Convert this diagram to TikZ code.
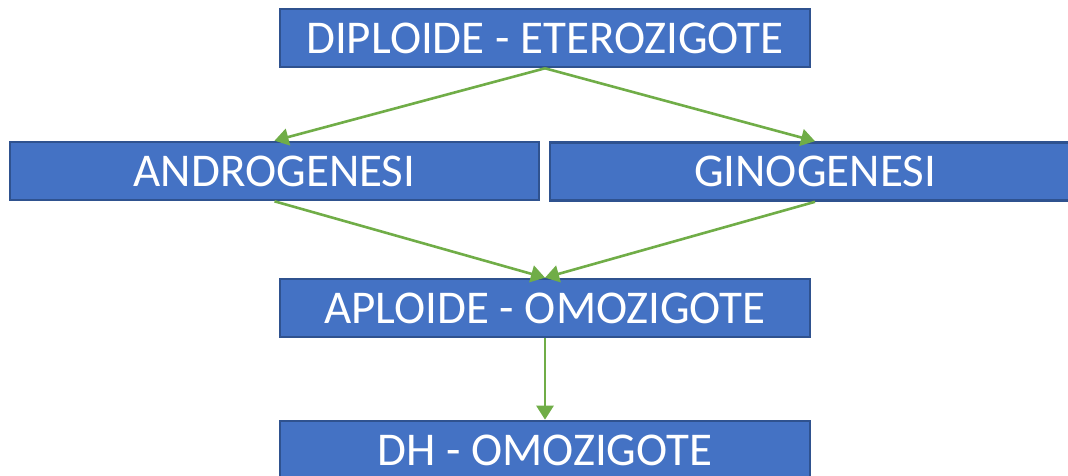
\documentclass[tikz,border=0pt]{standalone}
\usepackage{fontspec}
\setmainfont{Carlito}
\usetikzlibrary{arrows.meta}
\definecolor{boxfill}{HTML}{4472C4}
\definecolor{boxline}{HTML}{2F528F}
\definecolor{arrowgreen}{HTML}{70AD47}
\tikzset{
  stagebox/.style={rectangle, fill=boxfill, draw=boxline, line width=2.6pt,
    minimum width=530pt, minimum height=58pt, inner sep=0pt,
    text=white, font=\fontsize{47}{54}\selectfont},
  flow/.style={draw=arrowgreen, line width=2.6pt,
    -{Triangle[length=14pt,width=17pt]}, arrowgreen}
}
\begin{document}
\begin{tikzpicture}[x=1pt,y=-1pt]
  \useasboundingbox (0,0) rectangle (1068,476);
  \fill[white] (0,0) rectangle (1068,476);
  \clip (0,0) rectangle (1068,476);
  % stages of the process
  \node[stagebox] (dip) at (545,38) {DIPLOIDE - ETEROZIGOTE};
  \node[stagebox, minimum width=529pt] (andro) at (274.5,171) {ANDROGENESI};
  \node[stagebox] (gino) at (815,171.5) {GINOGENESI};
  \node[stagebox] (aplo) at (545,308) {APLOIDE - OMOZIGOTE};
  \node[stagebox] (dh) at (545,450) {DH - OMOZIGOTE};
  % connectors
  \draw[flow] (dip.south) -- (andro.north);
  \draw[flow] (dip.south) -- (gino.north);
  \draw[flow] (andro.south) -- (aplo.north);
  \draw[flow] (gino.south) -- (aplo.north);
  \draw[flow] (aplo.south) -- (dh.north);
\end{tikzpicture}
\end{document}
